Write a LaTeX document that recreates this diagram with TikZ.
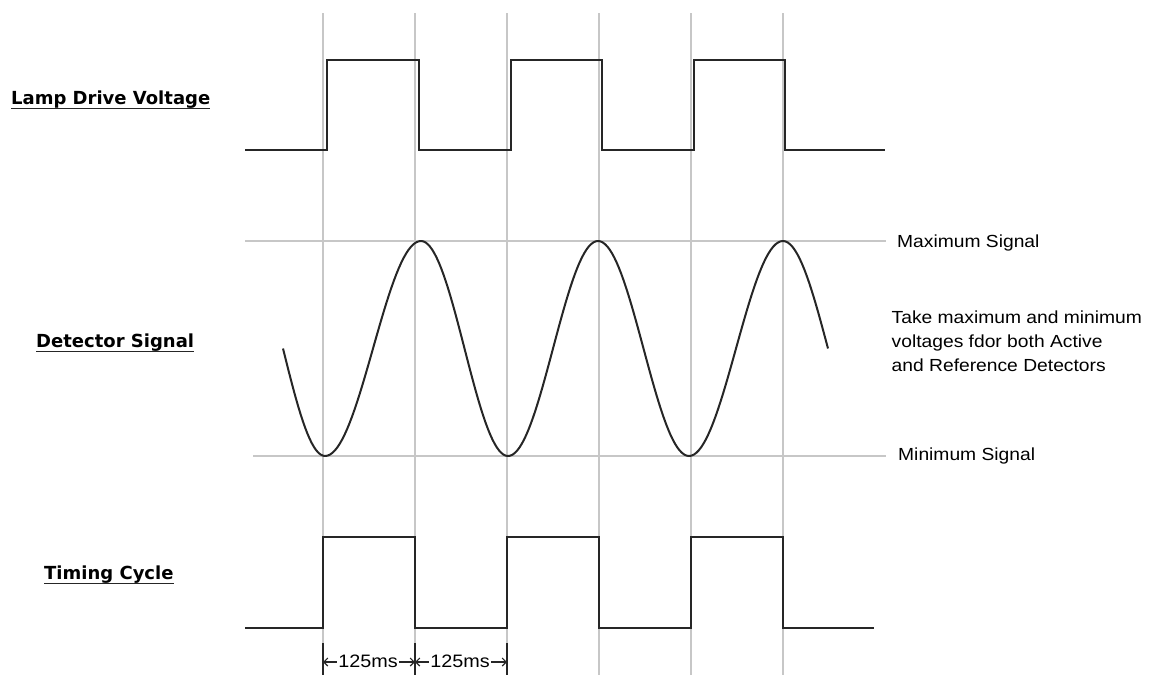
\documentclass[tikz,border=0pt]{standalone}
\usepackage{fontspec}
\setmainfont{Liberation Sans}
\newfontfamily\notefont{Liberation Sans}[FakeStretch=1.1]
\newfontfamily\labfont{DejaVu Sans}
\usetikzlibrary{arrows.meta}
\begin{document}
\begin{tikzpicture}[x=1pt,y=-1pt,
  gridline/.style={draw=black!22, line width=1.2pt},
  sigline/.style={draw=black!85, line width=2pt, line join=miter},
  siglabel/.style={font=\labfont\bfseries\fontsize{18}{22}\selectfont, anchor=base west, inner sep=0pt},
  ulinestyle/.style={draw=black!85, line width=1.6pt},
  notetext/.style={font=\notefont\fontsize{17.5}{24}\selectfont, anchor=base west, inner sep=0pt, align=left},
  dimtext/.style={font=\notefont\fontsize{18}{21}\selectfont, inner xsep=1.5pt, inner ysep=0pt, anchor=base},
  dimarrow/.style={draw=black!85, line width=1.1pt, -{Straight Barb[length=4pt,width=8pt]}},
  tickline/.style={draw=black!85, line width=1.5pt}
]
\useasboundingbox (0,0) rectangle (1149,675);

% vertical grid lines
\foreach \gx in {323,415,507,599,691,783}
  \draw[gridline] (\gx,13) -- (\gx,675);
% horizontal reference lines
\draw[gridline] (245,241) -- (886,241);
\draw[gridline] (253,456) -- (886,456);

% lamp drive voltage
\draw[sigline] (245,150) -- (327,150) -- (327,60) -- (419,60) -- (419,150)
  -- (511,150) -- (511,60) -- (602,60) -- (602,150) -- (694,150) -- (694,60)
  -- (785,60) -- (785,150) -- (885,150);

% detector signal
\draw[sigline, line join=round]
     plot[domain=0:1,samples=20] ({283+42*\x},{348.5+107.5*sin(90*\x)})
  -- plot[domain=0:1,samples=40] ({325+96*\x},{348.5+107.5*cos(180*\x)})
  -- plot[domain=0:1,samples=40] ({421+87*\x},{348.5-107.5*cos(180*\x)})
  -- plot[domain=0:1,samples=40] ({508+90*\x},{348.5+107.5*cos(180*\x)})
  -- plot[domain=0:1,samples=40] ({598+91*\x},{348.5-107.5*cos(180*\x)})
  -- plot[domain=0:1,samples=40] ({689+94*\x},{348.5+107.5*cos(180*\x)})
  -- plot[domain=0:1,samples=20] ({783+45*\x},{241+107.5*(1-cos(90*\x))});

% timing cycle
\draw[sigline] (245,628) -- (323,628) -- (323,537) -- (415,537) -- (415,628)
  -- (507,628) -- (507,537) -- (599,537) -- (599,628) -- (691,628) -- (691,537)
  -- (783,537) -- (783,628) -- (874,628);

% left labels
\node[siglabel] (lamp) at (11,104.5) {Lamp Drive Voltage};
\draw[ulinestyle] ([yshift=-4pt]lamp.base west) -- ([yshift=-4pt]lamp.base east);
\node[siglabel] (det) at (36,347.5) {Detector Signal};
\draw[ulinestyle] ([yshift=-4pt]det.base west) -- ([yshift=-4pt]det.base east);
\node[siglabel] (tim) at (44,579.5) {Timing Cycle};
\draw[ulinestyle] ([yshift=-4pt]tim.base west) -- ([yshift=-4pt]tim.base east);

% right notes
\node[notetext] (maxs) at (897,247) {Maximum Signal};
\node[notetext] (mins) at (898,460.5) {Minimum Signal};
\node[notetext] (take) at (891.5,371.5) {Take maximum and minimum\\voltages fdor both Active\\and Reference Detectors};

% 125 ms dimensions
\coordinate (k1) at (323,662);
\coordinate (k2) at (415,662);
\coordinate (k3) at (507,662);
\foreach \kx in {323,415,507}
  \draw[tickline] (\kx,643) -- (\kx,675);
\node[dimtext] (d1) at (368,667) {125ms};
\node[dimtext] (d2) at (460,667) {125ms};
\draw[dimarrow] (d1.west |- k1) -- (k1);
\draw[dimarrow] (d1.east |- k2) -- (k2);
\draw[dimarrow] (d2.west |- k2) -- (k2);
\draw[dimarrow] (d2.east |- k3) -- (k3);
\end{tikzpicture}
\end{document}
